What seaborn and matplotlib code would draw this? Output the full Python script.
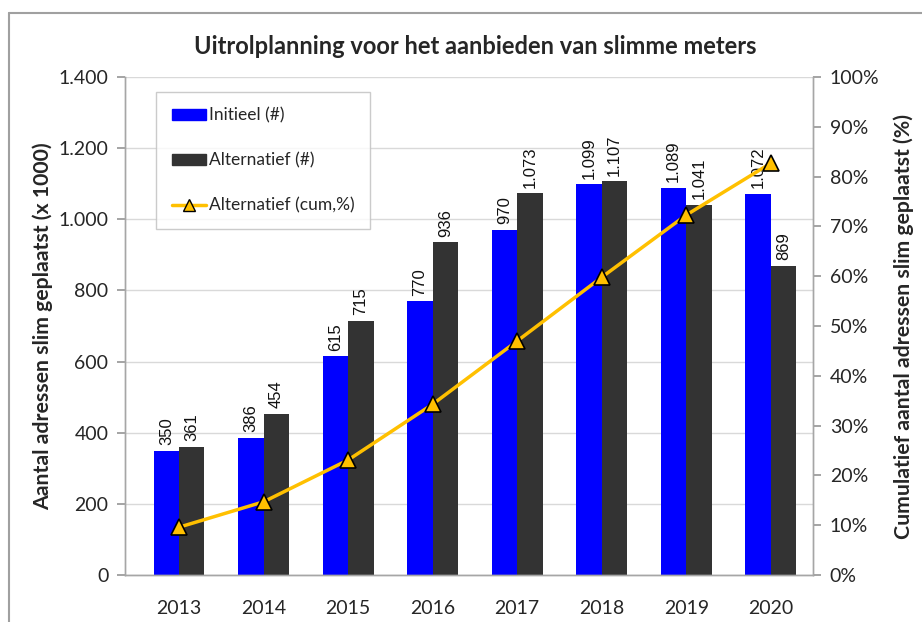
import matplotlib
matplotlib.use("Agg")
import matplotlib.pyplot as plt
import matplotlib.ticker as mticker
from matplotlib.lines import Line2D
import seaborn as sns
import pandas as pd
import numpy as np

years = ["2013", "2014", "2015", "2016", "2017", "2018", "2019", "2020"]
initieel = [350, 386, 615, 770, 970, 1099, 1089, 1072]
alternatief = [361, 454, 715, 936, 1073, 1107, 1041, 869]
cum_pct = [9.6, 14.7, 23.1, 34.3, 47.0, 59.8, 72.3, 82.7]

series_names = ["Initieel (#)", "Alternatief (#)"]
line_name = "Alternatief (cum,%)"
colors = {"Initieel (#)": "#0000FF", "Alternatief (#)": "#333333"}

sns.set_theme(style="white")
plt.rcParams["font.family"] = ["Lato", "DejaVu Sans"]

df = pd.DataFrame({
    "jaar": years * 2,
    "waarde": initieel + alternatief,
    "reeks": [series_names[0]] * len(years) + [series_names[1]] * len(years),
})
df_line = pd.DataFrame({"pos": np.arange(len(years)), "pct": cum_pct})

fig = plt.figure(figsize=(9.22, 6.22), dpi=100)
ax = fig.add_axes([0.1356, 0.0756, 0.7462, 0.8004])

sns.barplot(data=df, x="jaar", y="waarde", hue="reeks", palette=colors,
            width=0.6, saturation=1, ax=ax, legend=False, linewidth=0)

def fmt_nl(v):
    return f"{int(v):,}".replace(",", ".")

for cont in ax.containers:
    ax.bar_label(cont, labels=[fmt_nl(b.get_height()) for b in cont],
                 rotation=90, padding=4, fontsize=12,
                 family=["Liberation Sans", "DejaVu Sans"], color="#111111")

ax.set_ylim(0, 1400)
ax.set_xlim(-0.64, 7.5)
ax.set_yticks(np.arange(0, 1401, 200))
ax.yaxis.set_major_formatter(mticker.FuncFormatter(lambda v, p: fmt_nl(v)))
ax.yaxis.grid(True, color="#d9d9d9", linewidth=1)
ax.set_axisbelow(True)
ax.set_xlabel("")
ax.set_ylabel("Aantal adressen slim geplaatst (x 1000)", fontsize=15.3,
              fontweight="bold", labelpad=4)
ax.tick_params(axis="y", which="both", left=True, length=6, color="#999999",
               labelsize=14, pad=6, direction="out")
ax.tick_params(axis="x", bottom=False, labelsize=14, pad=12)

ax2 = ax.twinx()
sns.lineplot(data=df_line, x="pos", y="pct", ax=ax2, color="#FFC000",
             linewidth=2.5, marker="^", markersize=11,
             markerfacecolor="#FFC000", markeredgecolor="black",
             markeredgewidth=1.2)
ax2.set_ylim(0, 100)
ax2.set_xlim(-0.64, 7.5)
ax2.set_yticks(np.arange(0, 101, 10))
ax2.yaxis.set_major_formatter(mticker.FuncFormatter(lambda v, p: f"{int(v)}%"))
ax2.set_ylabel("Cumulatief aantal adressen slim geplaatst (%)", fontsize=15.3,
               fontweight="bold", rotation=90, labelpad=10)
ax2.set_xlabel("")
ax2.tick_params(axis="y", right=True, length=6, color="#999999",
                labelsize=14, pad=6, direction="out")

for a in (ax, ax2):
    a.spines["top"].set_visible(False)
    for s in ["left", "right", "bottom"]:
        a.spines[s].set_color("#a6a6a6")
        a.spines[s].set_linewidth(1)

handles = [
    plt.Rectangle((0, 0), 1, 1, color=colors[series_names[0]]),
    plt.Rectangle((0, 0), 1, 1, color=colors[series_names[1]]),
    Line2D([0], [0], color="#FFC000", linewidth=2.5, marker="^", markersize=9,
           markerfacecolor="#FFC000", markeredgecolor="black"),
]
leg = ax.legend(handles, series_names + [line_name], loc="upper left",
                bbox_to_anchor=(0.045, 0.97), fontsize=12.5, frameon=True,
                fancybox=False, edgecolor="#bfbfbf", labelspacing=1.65,
                handlelength=2.0, handleheight=0.55, handletextpad=0.15,
                borderpad=0.9, borderaxespad=0)
leg.get_frame().set_linewidth(1)

fig.text(0.515, 0.925, "Uitrolplanning voor het aanbieden van slimme meters",
         ha="center", va="center", fontsize=17, fontweight="bold")

fig.add_artist(Line2D([9 / 922, 1.0], [1 - 13 / 622, 1 - 13 / 622],
                      color="#a0a0a0", linewidth=1.5, transform=fig.transFigure))
fig.add_artist(Line2D([9 / 922, 9 / 922], [0, 1 - 13 / 622],
                      color="#a0a0a0", linewidth=1.5, transform=fig.transFigure))

fig.savefig("out.png", dpi=100)
